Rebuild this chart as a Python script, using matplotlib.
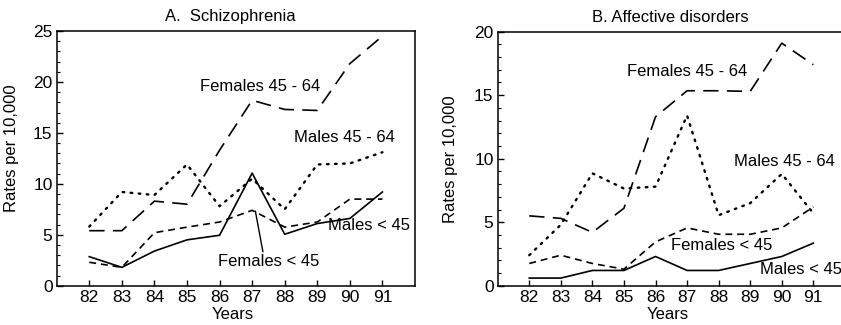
import numpy as np
import matplotlib
matplotlib.use("Agg")
from matplotlib import pyplot as plt
from matplotlib.ticker import MultipleLocator

plt.rcParams['font.family'] = ['Liberation Sans', 'DejaVu Sans']
plt.rcParams['lines.scale_dashes'] = False

years = [82, 83, 84, 85, 86, 87, 88, 89, 90, 91]

# A. Schizophrenia
schiz_f_45_64 = [5.4, 5.4, 8.3, 8.0, 13.3, 18.2, 17.3, 17.2, 21.8, 24.5]
schiz_m_45_64 = [5.8, 9.2, 8.9, 11.9, 7.8, 10.5, 7.5, 11.9, 12.0, 13.1]
schiz_m_lt45 = [2.85, 1.8, 3.4, 4.5, 4.95, 11.05, 5.05, 6.1, 6.6, 9.2]
schiz_f_lt45 = [2.3, 1.8, 5.2, 5.75, 6.25, 7.4, 5.75, 6.25, 8.5, 8.5]

# B. Affective disorders
aff_f_45_64 = [5.5, 5.3, 4.2, 6.1, 13.3, 15.35, 15.35, 15.3, 19.1, 17.4]
aff_m_45_64 = [2.4, 4.8, 8.85, 7.65, 7.8, 13.4, 5.55, 6.5, 8.8, 5.7]
aff_f_lt45 = [1.75, 2.4, 1.75, 1.3, 3.45, 4.55, 4.05, 4.05, 4.55, 6.2]
aff_m_lt45 = [0.6, 0.6, 1.2, 1.2, 2.3, 1.2, 1.2, 1.75, 2.3, 3.35]

long_dash = (0, (11, 6))
short_dash = (0, (5, 3.5))
dotted = (0, (1.2, 4.6))

fig = plt.figure(figsize=(8.41, 3.25), dpi=100)
W, H = 841.0, 325.0

def px_axes(left, top, right, bottom):
    return fig.add_axes([left / W, 1 - bottom / H, (right - left) / W, (bottom - top) / H])

def style(ax, ymax):
    ax.set_xlim(81, 92)
    ax.set_ylim(0, ymax)
    ax.set_xticks(years)
    ax.set_xticklabels([str(y) for y in years])
    ax.yaxis.set_major_locator(MultipleLocator(5))
    ax.yaxis.set_minor_locator(MultipleLocator(1))
    ax.tick_params(axis='both', which='major', direction='in', length=4.5, width=1,
                   labelsize=12.5, pad=3)
    ax.tick_params(axis='y', which='minor', direction='in', length=2, width=0.8)
    ax.tick_params(axis='x', which='minor', bottom=False)
    for s in ax.spines.values():
        s.set_linewidth(1.1)

lw = 1.2
lw_dot = 1.7

# panel A
axA = px_axes(56.7, 31, 415, 285.7)
axA.plot(years, schiz_f_45_64, color='black', lw=lw, linestyle=long_dash)
axA.plot(years, schiz_m_45_64, color='black', lw=lw_dot, linestyle=dotted, dash_capstyle='round')
axA.plot(years, schiz_m_lt45, color='black', lw=lw, linestyle='-')
axA.plot(years, schiz_f_lt45, color='black', lw=lw, linestyle=short_dash)
style(axA, 25)
axA.text(87.23, 19.6, 'Females 45 - 64', ha='center', va='center', fontsize=12)
axA.text(89.84, 14.56, 'Males 45 - 64', ha='center', va='center', fontsize=12)
axA.text(90.6, 5.9, 'Males < 45', ha='center', va='center', fontsize=12)
axA.text(87.52, 2.42, 'Females < 45', ha='center', va='center', fontsize=12)
axA.plot([87.1, 87.33], [7.3, 3.35], color='black', lw=1)
axA.set_ylabel('Rates per 10,000', fontsize=12, labelpad=4)
axA.yaxis.set_label_coords(-0.105, 0.54)
axA.set_xlabel('Years', fontsize=12, labelpad=1)
axA.xaxis.set_label_coords(0.49, -0.085)
fig.text(230 / W, 1 - 17 / H, 'A.  Schizophrenia', ha='center', va='center', fontsize=12)

# panel B
axB = px_axes(497.7, 31.7, 844.9, 285.7)
axB.plot(years, aff_f_45_64, color='black', lw=lw, linestyle=long_dash)
axB.plot(years, aff_m_45_64, color='black', lw=lw_dot, linestyle=dotted, dash_capstyle='round')
axB.plot(years, aff_m_lt45, color='black', lw=lw, linestyle='-')
axB.plot(years, aff_f_lt45, color='black', lw=lw, linestyle=short_dash)
style(axB, 20)
axB.text(86.99, 16.9, 'Females 45 - 64', ha='center', va='center', fontsize=12)
axB.text(90.08, 9.76, 'Males 45 - 64', ha='center', va='center', fontsize=12)
axB.text(88.1, 3.13, 'Females < 45', ha='center', va='center', fontsize=12)
axB.text(89.31, 1.24, 'Males < 45', ha='left', va='center', fontsize=12)
axB.set_ylabel('Rates per 10,000', fontsize=12)
axB.yaxis.set_label_coords(-0.115, 0.5)
axB.set_xlabel('Years', fontsize=12)
axB.xaxis.set_label_coords(0.49, -0.085)
fig.text(670 / W, 1 - 18 / H, 'B. Affective disorders', ha='center', va='center', fontsize=12)

fig.savefig('out.png', dpi=100)
